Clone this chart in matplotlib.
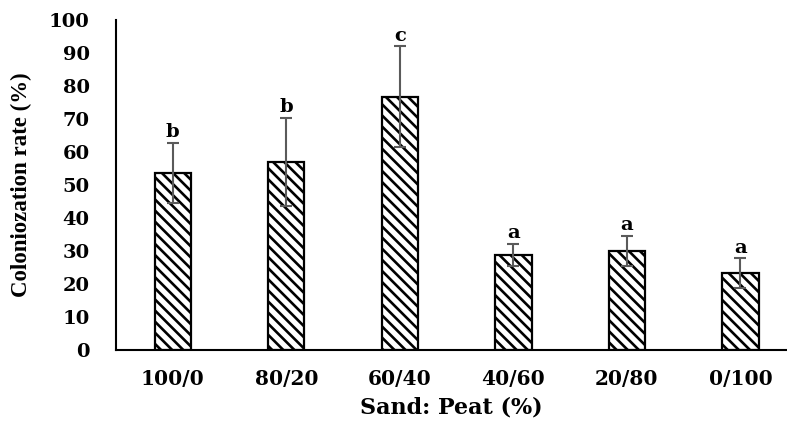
import numpy as np
import matplotlib.pyplot as plt

plt.rcParams['hatch.linewidth'] = 1.9
plt.rcParams['hatch.color'] = 'black'

# Data
mixes = ['100/0', '80/20', '60/40', '40/60', '20/80', '0/100']
colonization = [53.6, 57.0, 76.7, 28.8, 30.0, 23.3]
errors = [9.2, 13.3, 15.3, 3.3, 4.6, 4.5]
letters = ['b', 'b', 'c', 'a', 'a', 'a']

font = 'DejaVu Serif'

fig = plt.figure(figsize=(7.87, 4.21), dpi=100)
ax = fig.add_axes([116 / 787, 1 - 350 / 421, 1 - 116 / 787, 330 / 421])

x = np.arange(len(mixes))
ax.bar(x, colonization, width=0.32, color='white', edgecolor='black',
       linewidth=1.6, hatch='\\\\\\', zorder=2)
ax.errorbar(x, colonization, yerr=errors, fmt='none', ecolor='#5a5a5a',
            elinewidth=1.5, capsize=4.5, capthick=1.5, zorder=3)

for xi, v, e, lab in zip(x, colonization, errors, letters):
    ax.text(xi, v + e + 0.5, lab, ha='center', va='bottom',
            fontsize=14, fontweight='bold', family=font)

ax.set_xlim(-0.5, 5.41)
ax.set_ylim(0, 100)
ax.set_yticks(range(0, 101, 10))
ax.set_xticks(x)
ax.set_xticklabels(mixes)

for side in ['top', 'right']:
    ax.spines[side].set_visible(False)
for side in ['left', 'bottom']:
    ax.spines[side].set_linewidth(1.5)

ax.tick_params(axis='y', length=0, pad=19)
ax.tick_params(axis='x', length=0, pad=14)
for lbl in ax.get_yticklabels():
    lbl.set_fontfamily(font)
    lbl.set_fontweight('bold')
    lbl.set_fontsize(14)
for lbl in ax.get_xticklabels():
    lbl.set_fontfamily(font)
    lbl.set_fontweight('bold')
    lbl.set_fontsize(14.5)

ax.set_xlabel('Sand: Peat (%)', family=font, fontweight='bold', fontsize=16,
              labelpad=5)
ax.set_ylabel('Coloniozation rate (%)', family='Liberation Serif',
              fontweight='bold', fontsize=16.5, labelpad=12)

fig.savefig('out.png', dpi=100)
